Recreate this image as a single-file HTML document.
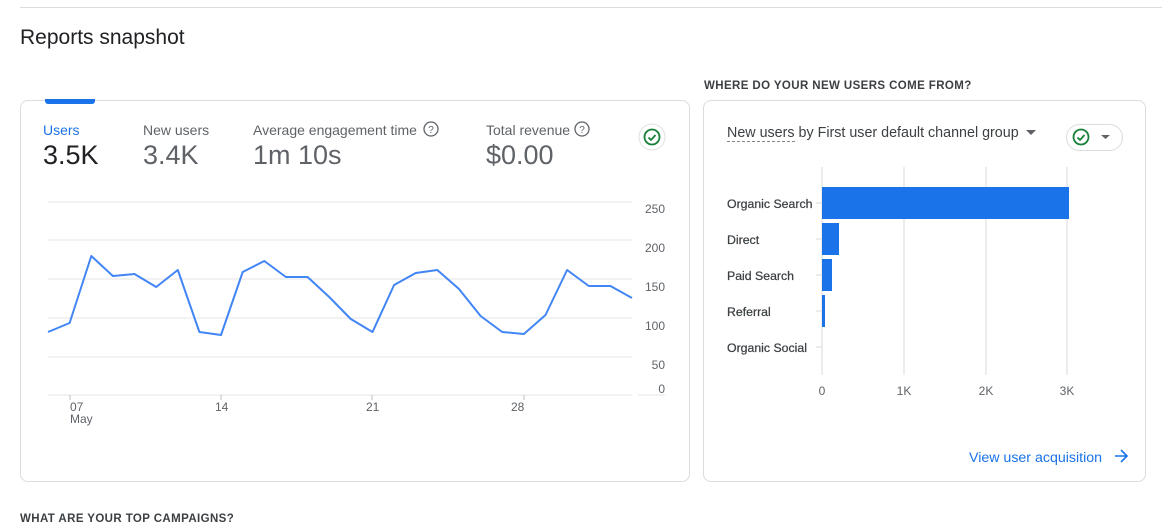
<!DOCTYPE html>
<html><head><style>
body{margin:0;width:1174px;height:515px;overflow:hidden;background:#fff;font-family:"Liberation Sans",sans-serif;position:relative}
.a{position:absolute;white-space:nowrap}
.card{position:absolute;border:1px solid #dadce0;border-radius:8px;box-sizing:border-box}
</style></head><body>
<div class="a" style="left:20px;top:7px;width:1142px;height:1px;background:#dadce0"></div>
<div class="a" style="left:20px;top:26px;font-size:21px;color:#202124">Reports snapshot</div>
<div class="card" style="left:20px;top:100px;width:670px;height:382px"></div>
<div class="a" style="left:45px;top:99px;width:50px;height:5px;background:#1a73e8;border-radius:0 0 3px 3px"></div>
<div class="a" style="left:43px;top:122px;font-size:14px;color:#1a73e8">Users</div>
<div class="a" style="left:43px;top:140px;font-size:27px;color:#202124">3.5K</div>
<div class="a" style="left:143px;top:122px;font-size:14px;color:#5f6368">New users</div>
<div class="a" style="left:143px;top:140px;font-size:27px;color:#5f6368">3.4K</div>
<div class="a" style="left:253px;top:122px;font-size:14px;color:#5f6368">Average engagement time</div>
<div class="a" style="left:253px;top:140px;font-size:27px;color:#5f6368">1m 10s</div>
<div class="a" style="left:486px;top:122px;font-size:14px;color:#5f6368">Total revenue</div>
<div class="a" style="left:486px;top:140px;font-size:27px;color:#5f6368">$0.00</div>
<svg class="a" style="left:0;top:0" width="1174" height="515">
<g fill="none" stroke="#5f6368" stroke-width="1.3"><circle cx="431" cy="129" r="7"/><circle cx="582" cy="129" r="7"/></g>
<text x="431" y="133" font-size="10" text-anchor="middle" fill="#5f6368" font-family="Liberation Sans">?</text>
<text x="582" y="133" font-size="10" text-anchor="middle" fill="#5f6368" font-family="Liberation Sans">?</text>
<circle cx="652" cy="137" r="13" fill="#fff" stroke="#e0e0e0"/>
<circle cx="652" cy="137" r="7.5" fill="none" stroke="#188038" stroke-width="1.8"/>
<path d="M648.5 137.5l2.5 2.5 4.5-5" fill="none" stroke="#188038" stroke-width="1.8"/>
<g stroke="#ebebeb" stroke-width="1.2">
<line x1="48" x2="632" y1="202" y2="202"/><line x1="48" x2="632" y1="240" y2="240"/><line x1="48" x2="632" y1="279" y2="279"/><line x1="48" x2="632" y1="318" y2="318"/><line x1="48" x2="632" y1="357" y2="357"/><line x1="48" x2="632" y1="395" y2="395"/>
<line x1="638" x2="665" y1="395" y2="395"/>
</g>
<g font-size="12" fill="#5f6368" text-anchor="end" font-family="Liberation Sans">
<text x="665" y="213">250</text><text x="665" y="252">200</text><text x="665" y="291">150</text><text x="665" y="330">100</text><text x="665" y="369">50</text><text x="665" y="393">0</text>
</g>
<g stroke="#bdbdbd"><line x1="70" x2="70" y1="395" y2="400"/><line x1="221" x2="221" y1="395" y2="400"/><line x1="372" x2="372" y1="395" y2="400"/><line x1="524" x2="524" y1="395" y2="400"/></g>
<g font-size="12" fill="#5f6368" font-family="Liberation Sans">
<text x="70" y="411">07</text><text x="70" y="423">May</text><text x="215" y="411">14</text><text x="366" y="411">21</text><text x="511" y="411">28</text>
</g>
<polyline fill="none" stroke="#4285f4" stroke-width="2" stroke-linejoin="round" points="48,332 69.6,323 91.3,256 112.9,276 134.5,274 156.2,287 177.8,270 199.4,332 221,335 242.7,272 264.3,261 285.9,277 307.6,277 329.2,297 350.8,319 372.5,332 394.1,285 415.7,273 437.3,270 459,289 480.6,316 502.2,332 523.9,334 545.5,315 567.1,270 588.8,286 610.4,286 632,298"/>
</svg>
<div class="a" style="left:704px;top:80px;font-size:11.5px;font-weight:bold;letter-spacing:0.4px;color:#3c4043">WHERE DO YOUR NEW USERS COME FROM?</div>
<div class="card" style="left:703px;top:100px;width:443px;height:382px"></div>
<div class="a" style="left:727px;top:125px;font-size:14.3px;color:#3c4043"><span style="border-bottom:1px dashed #80868b">New users</span> by First user default channel group</div>
<div class="a" style="left:1066px;top:124px;width:55px;height:25px;border:1px solid #dadce0;border-radius:14px"></div>
<svg class="a" style="left:0;top:0" width="1174" height="515">
<path d="M1026 130h10l-5 5z" fill="#5f6368"/>
<path d="M1101 135h9l-4.5 4z" fill="#5f6368"/>
<circle cx="1081" cy="137" r="7.5" fill="none" stroke="#188038" stroke-width="1.8"/>
<path d="M1077.5 137.5l2.5 2.5 4.5-5" fill="none" stroke="#188038" stroke-width="1.8"/>
<g stroke="#e0e0e0" stroke-width="1.2">
<line x1="822" x2="822" y1="167" y2="375"/><line x1="904" x2="904" y1="167" y2="375"/><line x1="986" x2="986" y1="167" y2="375"/><line x1="1067" x2="1067" y1="167" y2="375"/>
<line x1="816" x2="822" y1="203" y2="203"/><line x1="816" x2="822" y1="239" y2="239"/><line x1="816" x2="822" y1="275" y2="275"/><line x1="816" x2="822" y1="311" y2="311"/><line x1="816" x2="822" y1="347" y2="347"/>
</g>
<g fill="#1a73e8">
<rect x="822" y="187" width="247" height="32"/><rect x="822" y="223" width="17" height="32"/><rect x="822" y="259" width="10" height="32"/><rect x="822" y="295" width="3" height="32"/>
</g>
<g font-size="12.3" fill="#3c4043" font-family="Liberation Sans" stroke="#3c4043" stroke-width="0.25">
<text x="727" y="208">Organic Search</text><text x="727" y="244">Direct</text><text x="727" y="280">Paid Search</text><text x="727" y="316">Referral</text><text x="727" y="352">Organic Social</text>
</g>
<g font-size="12" fill="#5f6368" text-anchor="middle" font-family="Liberation Sans">
<text x="822" y="395">0</text><text x="904" y="395">1K</text><text x="986" y="395">2K</text><text x="1067" y="395">3K</text>
</g>
<text x="969" y="462" font-size="14.2" fill="#1a73e8" font-family="Liberation Sans">View user acquisition</text>
<path d="M1115 456h11M1121 450l6 6-6 6" fill="none" stroke="#1a73e8" stroke-width="1.6"/>
</svg>
<div class="a" style="left:20px;top:513px;font-size:11.5px;font-weight:bold;letter-spacing:0.4px;color:#3c4043">WHAT ARE YOUR TOP CAMPAIGNS?</div>
</body></html>
